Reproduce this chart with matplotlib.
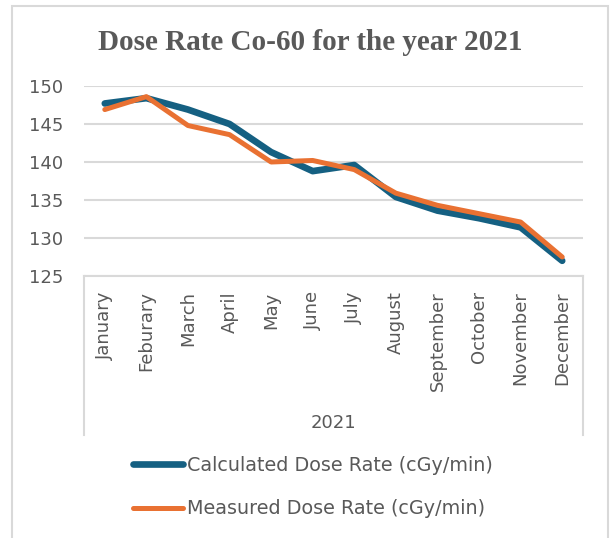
import matplotlib
matplotlib.use("Agg")
import matplotlib.pyplot as plt
from matplotlib.lines import Line2D
from matplotlib.patches import Rectangle

months = ["January", "Feburary", "March", "April", "May", "June", "July",
          "August", "September", "October", "November", "December"]
calculated = [147.7, 148.4, 146.9, 145.0, 141.3, 138.8, 139.6, 135.4, 133.6, 132.6, 131.4, 127.0]
measured = [146.9, 148.6, 144.8, 143.6, 140.0, 140.2, 139.0, 135.9, 134.3, 133.2, 132.1, 127.5]
y_ticks = [125, 130, 135, 140, 145, 150]

BLUE = "#156082"
ORANGE = "#E97132"
GRID = "#d9d9d9"
TEXT = "#595959"
FONT = "DejaVu Sans"
FS = 13

W, H = 611, 538
fig = plt.figure(figsize=(W / 100, H / 100), dpi=100)
ax = fig.add_axes([84 / W, 1 - 276 / H, (583 - 84) / W, (276 - 86) / H])

x = list(range(len(months)))
ax.plot(x, calculated, color=BLUE, lw=4.8, solid_capstyle="round", solid_joinstyle="round",
        label="Calculated Dose Rate (cGy/min)", zorder=3)
ax.plot(x, measured, color=ORANGE, lw=3.6, solid_capstyle="round", solid_joinstyle="round",
        label="Measured Dose Rate (cGy/min)", zorder=4)

ax.set_xlim(-0.5, len(months) - 0.5)
ax.set_ylim(125, 150)
ax.set_yticks(y_ticks)
ax.set_yticklabels([str(v) for v in y_ticks], fontsize=FS, color=TEXT, family=FONT)
ax.set_xticks(x)
ax.set_xticklabels(months, rotation=90, fontsize=FS, color=TEXT, family=FONT, va="top", ha="center")
ax.tick_params(axis="both", length=0)
ax.tick_params(axis="y", pad=15)
ax.tick_params(axis="x", pad=11)
ax.grid(axis="y", color=GRID, lw=1.5)
ax.set_axisbelow(True)
for s in ["top", "left", "right"]:
    ax.spines[s].set_visible(False)
ax.spines["bottom"].set_color(GRID)
ax.spines["bottom"].set_linewidth(1.5)

# multi-level category axis edges
for xp in (84, 583):
    fig.add_artist(Line2D([xp / W, xp / W], [1 - 276 / H, 1 - 435 / H], color=GRID, lw=1.5))

fig.text(333 / W, 1 - 423 / H, "2021", ha="center", va="center", fontsize=FS, color=TEXT, family=FONT)

fig.text(310 / W, 1 - 42 / H, "Dose Rate Co-60 for the year 2021", ha="center", va="center",
         fontsize=21, fontweight="bold", color=TEXT, family="Liberation Serif")

fig.add_artist(Rectangle((12 / W, -0.05), (608 - 12) / W, 1.05 - 6 / H, transform=fig.transFigure,
                         fill=False, edgecolor=GRID, lw=1.5))

leg = fig.legend(loc="center", bbox_to_anchor=(313 / W, 1 - 487 / H), frameon=False,
                 prop={"family": FONT, "size": 13.8}, handlelength=2.6, handletextpad=0.25,
                 labelspacing=1.3, borderaxespad=0)
for t in leg.get_texts():
    t.set_color(TEXT)

fig.savefig("out.png", dpi=100)
